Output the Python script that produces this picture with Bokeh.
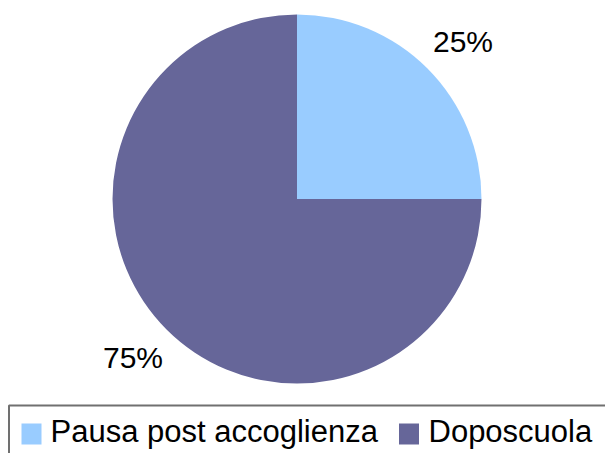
import numpy as np
from bokeh.plotting import figure
from bokeh.models import Range1d
from bokeh.core.properties import value
from bokeh.embed import file_html
from bokeh.resources import INLINE

# Data
categories = ["Pausa post accoglienza", "Doposcuola"]
values = [25, 75]
labels = ["25%", "75%"]
colors = ["#99CCFF", "#666699"]

W, H = 605, 453
FONT = "Liberation Sans"

p = figure(width=W, height=H, output_backend="svg", toolbar_location=None,
           x_range=Range1d(0, W), y_range=Range1d(0, H),
           x_axis_location=None, y_axis_location=None,
           min_border=0, outline_line_color=None)
p.grid.visible = False
p.background_fill_color = "white"
p.border_fill_color = "white"

def Y(y):
    return H - y

# pie geometry (pixels)
cx, cy, r = 296.5, 198.5, 184.5
vals = np.array(values, dtype=float)
cum = np.concatenate([[0], np.cumsum(vals) / vals.sum()])
start = np.pi / 2 - 2 * np.pi * cum[1:]
end = np.pi / 2 - 2 * np.pi * cum[:-1]
p.wedge(x=[cx] * len(vals), y=[Y(cy)] * len(vals), radius=r,
        start_angle=list(start), end_angle=list(end),
        fill_color=colors, line_color=None)

# percentage labels, placed outside the slices
label_pos = [(462.5, 41), (132.5, 356.5)]
p.text(x=[lp[0] for lp in label_pos], y=[Y(lp[1]) for lp in label_pos], text=labels,
       text_font=value(FONT), text_font_size="30px", text_color="black",
       text_align="center", text_baseline="middle")

# legend box
p.quad(left=[8.5], right=[W + 10], top=[Y(405)], bottom=[Y(H + 10)],
       fill_color=None, line_color="#707070", line_width=2)

sw_x = [31, 408.5]
txt_x = [50, 428]
p.rect(x=sw_x, y=[Y(433.5)] * 2, width=20, height=21, fill_color=colors, line_color=None)
p.text(x=txt_x, y=[Y(430.5)] * 2, text=categories,
       text_font=value(FONT), text_font_size="31px", text_color="black",
       text_align="left", text_baseline="middle")

open("out.html", "w").write(file_html(p, INLINE))
